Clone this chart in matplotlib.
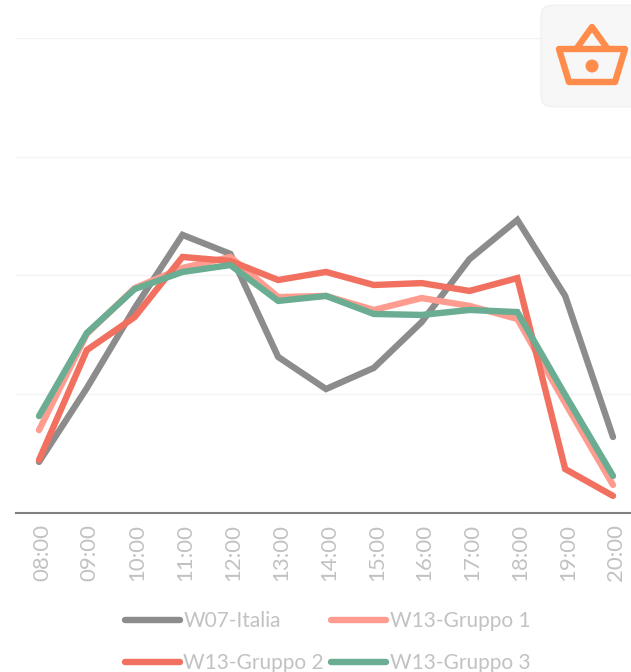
# plot.py
import matplotlib
matplotlib.use("Agg")
import matplotlib.pyplot as plt
from matplotlib.patches import Circle, FancyBboxPatch, Polygon
from matplotlib.transforms import ScaledTranslation

plt.rcParams['font.family'] = ['Lato', 'DejaVu Sans']

hours = ['08:00', '09:00', '10:00', '11:00', '12:00', '13:00', '14:00',
         '15:00', '16:00', '17:00', '18:00', '19:00', '20:00']
italia = [2.15, 5.26, 8.63, 11.71, 10.91, 6.57, 5.22, 6.11, 8.04, 10.69, 12.34, 9.14, 3.20]
gruppo1 = [3.49, 7.54, 9.47, 10.32, 10.78, 9.09, 9.14, 8.55, 9.05, 8.72, 8.17, 4.63, 1.18]
gruppo2 = [2.23, 6.86, 8.25, 10.78, 10.61, 9.81, 10.15, 9.60, 9.68, 9.35, 9.89, 1.85, 0.72]
gruppo3 = [4.08, 7.58, 9.43, 10.15, 10.44, 8.93, 9.14, 8.38, 8.34, 8.55, 8.46, 4.97, 1.56]
grid_values = [0, 5, 10, 15, 20]

W, H = 631, 672
TEXT = '#c2c2c2'
ORANGE = '#ff8c4b'

fig = plt.figure(figsize=(W / 100, H / 100), dpi=100)
ax = fig.add_axes([16 / W, 1 - 513 / H, 615 / W, 475 / H])

x = list(range(len(hours)))
l0, = ax.plot(x, italia, color='#8c8c8c', lw=4.6, solid_joinstyle='miter', solid_capstyle='round', clip_on=False)
l1, = ax.plot(x, gruppo1, color='#ff9c90', lw=4.6, solid_joinstyle='miter', solid_capstyle='round', clip_on=False)
l2, = ax.plot(x, gruppo2, color='#f2705f', lw=4.6, solid_joinstyle='miter', solid_capstyle='round', clip_on=False)
l3, = ax.plot(x, gruppo3, color='#6aad92', lw=4.6, solid_joinstyle='miter', solid_capstyle='round', clip_on=False)

ax.set_xlim(-0.481, 12.376)
ax.set_ylim(0, 20)
ax.set_yticks(grid_values)
ax.set_yticklabels([])
ax.set_xticks(x)
ax.set_xticklabels(hours, rotation=90, color=TEXT, fontsize=16)
ax.tick_params(axis='both', length=0)
ax.tick_params(axis='x', pad=8)
shift = ScaledTranslation(3 / 100, 0, fig.dpi_scale_trans)
for lab in ax.get_xticklabels():
    lab.set_transform(lab.get_transform() + shift)
ax.grid(axis='y', color='#f3f3f3', lw=1)
ax.set_axisbelow(True)
for s in ['top', 'left', 'right']:
    ax.spines[s].set_visible(False)
ax.spines['bottom'].set_color('#808080')
ax.spines['bottom'].set_linewidth(1.5)

# matplotlib fills legend column by column
leg = fig.legend([l0, l2, l1, l3],
                 ['W07-Italia', 'W13-Gruppo 2', 'W13-Gruppo 1', 'W13-Gruppo 3'],
                 ncol=2, frameon=False, fontsize=15, labelcolor=TEXT,
                 handlelength=2.65, handletextpad=0.15, columnspacing=0.35,
                 labelspacing=1.05, borderpad=0, borderaxespad=0,
                 loc='upper left', bbox_to_anchor=(125 / W, 1 - 611 / H))

# basket badge, top right
overlay = fig.add_axes([0, 0, 1, 1], facecolor='none')
overlay.set_xlim(0, W)
overlay.set_ylim(H, 0)
overlay.axis('off')
overlay.add_patch(FancyBboxPatch((541, 5), 110, 102, boxstyle='round,pad=0,rounding_size=12',
                                 fc='#f7f7f7', ec='#ececec', lw=0.6, clip_on=True))
overlay.add_patch(Polygon([(559, 49), (625, 49), (615, 82), (569, 82)], closed=True,
                          fill=False, ec=ORANGE, lw=4.6, joinstyle='round'))
overlay.add_patch(Polygon([(577, 48), (592, 27), (607, 48)], closed=False,
                          fill=False, ec=ORANGE, lw=4.6, joinstyle='round'))
overlay.add_patch(Circle((592, 66), 6.5, fc=ORANGE, ec='none'))

fig.savefig('out.png', dpi=100)
